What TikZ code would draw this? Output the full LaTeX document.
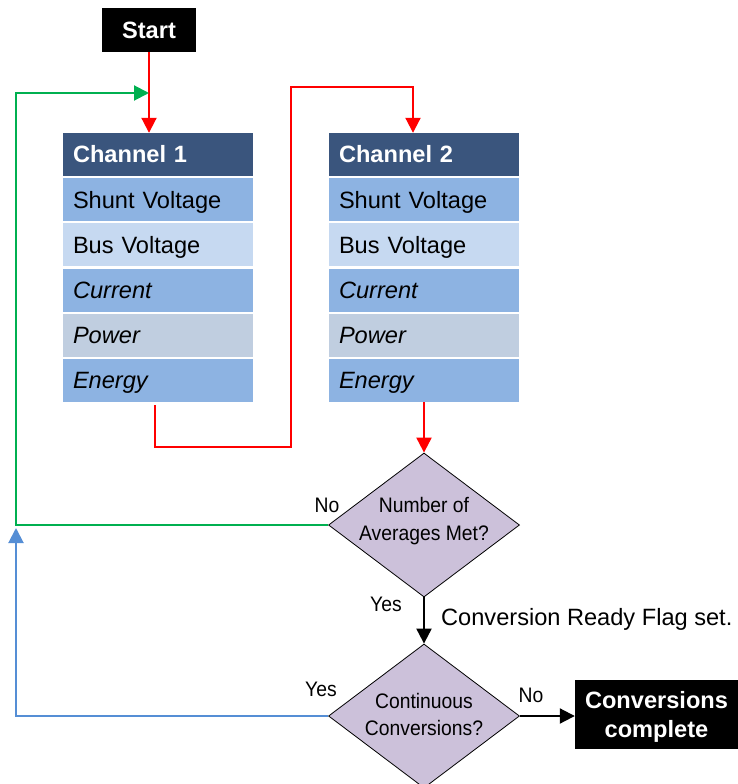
\documentclass[tikz,border=0pt]{standalone}
\usepackage{fontspec}
\setmainfont{Liberation Sans}
\newfontfamily\narrowsans[FakeStretch=0.92]{Liberation Sans}
\usetikzlibrary{shapes.geometric,arrows.meta,calc}
\definecolor{hdr}{HTML}{3A557D}
\definecolor{rowA}{HTML}{8DB3E2}
\definecolor{rowB}{HTML}{C6D9F1}
\definecolor{rowC}{HTML}{C0CEE0}
\definecolor{dia}{HTML}{CCC1DA}
\definecolor{grn}{HTML}{00B050}
\definecolor{blu}{HTML}{558ED5}
\begin{document}
\begin{tikzpicture}[x=1pt,y=-1pt,
  cell/.style={draw=none, minimum width=190pt, minimum height=43pt, text width=170pt,
    align=left, inner xsep=10pt, inner ysep=0pt, text height=16.8pt, text depth=0pt,
    font=\fontsize{23.6}{28}\selectfont},
  hcell/.style={cell, fill=hdr, text=white, font=\fontsize{23.6}{28}\selectfont\bfseries},
  term/.style={fill=black, text=white, inner sep=0pt, align=center,
    font=\fontsize{23.6}{28.5}\selectfont\bfseries},
  decision/.style={diamond, draw=black, line width=0.8pt, fill=dia, inner sep=0pt,
    minimum width=191pt, minimum height=144pt},
  dtext/.style={align=center, inner sep=0pt, text depth=0pt, font=\narrowsans\fontsize{21}{28}\selectfont},
  lbl/.style={inner sep=0pt, anchor=base, font=\narrowsans\fontsize{21}{24}\selectfont},
  tip/.style={-{Triangle[width=15pt,length=15pt]}},
  redline/.style={draw=red, line width=2pt},
  grnline/.style={draw=grn, line width=2pt},
  bluline/.style={draw=blu, line width=2pt},
  blkline/.style={draw=black, line width=2pt},
]
\useasboundingbox (0,0) rectangle (738,784);

% Start
\node[term, minimum width=94pt, minimum height=44pt, text height=16.5pt, text depth=0pt] (start) at (149,30) {Start};

% Channel 1
\node[hcell] (c1h) at (158,154.5) {Channel 1};
\node[cell, fill=rowA] (c1s) at (158,199.7) {Shunt Voltage};
\node[cell, fill=rowB] (c1b) at (158,244.9) {Bus Voltage};
\node[cell, fill=rowA] (c1c) at (158,290.1) {\itshape Current};
\node[cell, fill=rowC] (c1p) at (158,335.3) {\itshape Power};
\node[cell, fill=rowA] (c1e) at (158,380.5) {\itshape Energy};

% Channel 2
\node[hcell] (c2h) at (424,154.5) {Channel 2};
\node[cell, fill=rowA] (c2s) at (424,199.7) {Shunt Voltage};
\node[cell, fill=rowB] (c2b) at (424,244.9) {Bus Voltage};
\node[cell, fill=rowA] (c2c) at (424,290.1) {\itshape Current};
\node[cell, fill=rowC] (c2p) at (424,335.3) {\itshape Power};
\node[cell, fill=rowA] (c2e) at (424,380.5) {\itshape Energy};

% Decisions
\node[decision] (d1) at (424,525) {};
\node[dtext] (d1t) at (424,519) {Number of\\Averages Met?};
\node[decision] (d2) at (424,716) {};
\node[dtext, font=\narrowsans\fontsize{21}{27}\selectfont] (d2t) at (424,714) {Continuous\\Conversions?};

% End
\node[term, minimum width=163pt, minimum height=69pt, text depth=0pt] (done) at (656.5,714.5) {Conversions\\complete};

% Labels
\node[lbl] (no1) at (327,512) {No};
\node[lbl] (yes1) at (386,611) {Yes};
\node[inner sep=0pt, anchor=base west, font=\fontsize{23.6}{28}\selectfont] (flag) at (441,625) {Conversion Ready Flag set.};
\node[lbl] (yes2) at (321,696) {Yes};
\node[lbl] (no2) at (531,702) {No};

% helper coordinates
\coordinate (lx) at (16,0);
\coordinate (gy) at (0,93);
\coordinate (rA) at (155,405);
\coordinate (rB) at (291,447);
\coordinate (rC) at (413,87);

% Connectors
\draw[redline, tip] (start.south) -- (start.south |- c1h.north);
\draw[redline, tip] (rA) |- (rB) |- (rC) -- (rC |- c2h.north);
\draw[redline, tip] (c2e.south) -- (d1.north);
\draw[grnline, tip] (d1.west) -- (d1.west -| lx) -- (lx |- gy) -- (start.south |- gy);
\draw[bluline, tip] (d2.west) -- (d2.west -| lx) -- ($(lx |- d1.west)+(0,3)$);
\draw[blkline, tip] (d1.south) -- (d2.north);
\draw[blkline, tip] (d2.east) -- (d2.east -| done.west);
\end{tikzpicture}
\end{document}
